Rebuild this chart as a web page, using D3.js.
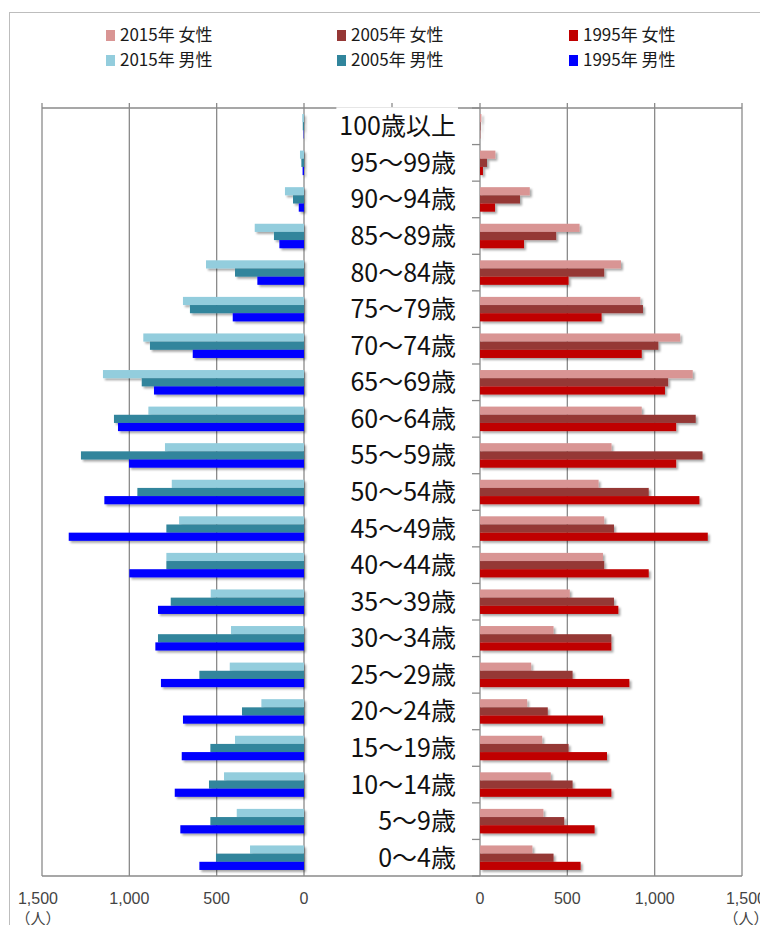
<!DOCTYPE html>
<html>
<head>
<meta charset="utf-8">
<script src="https://cdn.jsdelivr.net/npm/d3@7"></script>
<style>
  body { margin: 0; background: #fff; }
  svg { display: block; font-family: "Noto Sans CJK JP", "Noto Sans", sans-serif; }
</style>
</head>
<body>
<svg id="chart" width="760" height="925"></svg>
<script>
// age groups, top to bottom
var ageGroups = ["100歳以上", "95〜99歳", "90〜94歳", "85〜89歳", "80〜84歳", "75〜79歳",
  "70〜74歳", "65〜69歳", "60〜64歳", "55〜59歳", "50〜54歳", "45〜49歳", "40〜44歳",
  "35〜39歳", "30〜34歳", "25〜29歳", "20〜24歳", "15〜19歳", "10〜14歳", "5〜9歳", "0〜4歳"];
var years = ["2015", "2005", "1995"];

var male2015 = [10, 23, 109, 282, 561, 693, 920, 1151, 891, 796, 757, 715, 788, 534, 418, 425, 244, 395, 458, 385, 309];
var male2005 = [7, 15, 63, 172, 395, 653, 882, 929, 1088, 1277, 954, 788, 788, 763, 836, 599, 355, 536, 544, 536, 504];
var male1995 = [2, 8, 30, 141, 267, 408, 637, 859, 1065, 1002, 1143, 1347, 1000, 836, 851, 819, 693, 700, 740, 708, 599];

var female2015 = [8, 88, 285, 570, 807, 918, 1146, 1218, 926, 753, 679, 711, 704, 514, 421, 293, 270, 356, 405, 363, 300];
var female2005 = [3, 40, 229, 436, 711, 933, 1021, 1077, 1235, 1274, 966, 767, 711, 767, 752, 530, 388, 507, 530, 482, 421];
var female1995 = [1, 17, 86, 252, 507, 696, 926, 1059, 1123, 1123, 1256, 1304, 966, 792, 752, 855, 704, 727, 752, 656, 576];

var tickValues = [0, 500, 1000, 1500];

var maleSeries = [
  {year: "2015", name: "2015年 男性", values: male2015, color: "#93cddd"},
  {year: "2005", name: "2005年 男性", values: male2005, color: "#31859c"},
  {year: "1995", name: "1995年 男性", values: male1995, color: "#0000ff"}
];
var femaleSeries = [
  {year: "2015", name: "2015年 女性", values: female2015, color: "#d99594"},
  {year: "2005", name: "2005年 女性", values: female2005, color: "#953735"},
  {year: "1995", name: "1995年 女性", values: female1995, color: "#c00000"}
];

var svg = d3.select("#chart");
var plotTop = 108, plotBottom = 876;

var xLeft = d3.scaleLinear().domain([0, 1500]).range([304, 42]);
var xRight = d3.scaleLinear().domain([0, 1500]).range([480, 742]);
var y = d3.scaleBand().domain(ageGroups).range([plotTop, plotBottom]).paddingInner(0.33).paddingOuter(0.165);
var ySub = d3.scaleBand().domain(years).range([0, y.bandwidth()]);

var defs = svg.append("defs");
var f = defs.append("filter").attr("id", "shadow")
  .attr("x", "-5%").attr("y", "-40%").attr("width", "115%").attr("height", "200%");
f.append("feDropShadow").attr("dx", 2).attr("dy", 2).attr("stdDeviation", 1.3)
  .attr("flood-color", "#000").attr("flood-opacity", 0.35);

// outer frame
svg.append("rect").attr("x", 9.5).attr("y", 12.5).attr("width", 800).attr("height", 960)
  .attr("fill", "none").attr("stroke", "#bdbdbd").attr("stroke-width", 1);

var gridColor = "#8a8a8a";

// vertical gridlines
var grid = svg.append("g").attr("stroke", gridColor).attr("stroke-width", 1.3);
[xLeft, xRight].forEach(function(sc) {
  grid.selectAll(null).data(tickValues).enter().append("line")
    .attr("x1", function(d) { return sc(d); }).attr("x2", function(d) { return sc(d); })
    .attr("y1", plotTop - 5).attr("y2", plotBottom);
});
// top and bottom lines
grid.append("line").attr("x1", xLeft(1500)).attr("x2", xRight(1500)).attr("y1", plotTop).attr("y2", plotTop);
grid.append("line").attr("x1", xLeft(1500)).attr("x2", xRight(1500)).attr("y1", plotBottom).attr("y2", plotBottom);
grid.append("line").attr("x1", (xLeft(0) + xRight(0)) / 2).attr("x2", (xLeft(0) + xRight(0)) / 2)
  .attr("y1", plotTop - 5).attr("y2", plotTop);
// category ticks on the right panel axis
var bounds = ageGroups.map(function(d) { return y(d) - y.step() * y.paddingInner() / 2; });
bounds.push(plotBottom);
grid.selectAll(null).data(bounds).enter().append("line")
  .attr("x1", xRight(0) - 8).attr("x2", xRight(0))
  .attr("y1", function(d) { return d; }).attr("y2", function(d) { return d; });

// bars
var bars = svg.append("g").attr("filter", "url(#shadow)");
maleSeries.forEach(function(s) {
  bars.selectAll(null).data(s.values).enter().append("rect")
    .attr("x", function(d) { return xLeft(d); })
    .attr("y", function(d, i) { return y(ageGroups[i]) + ySub(s.year); })
    .attr("width", function(d) { return xLeft(0) - xLeft(d); })
    .attr("height", ySub.bandwidth())
    .attr("fill", s.color);
});
femaleSeries.forEach(function(s) {
  bars.selectAll(null).data(s.values).enter().append("rect")
    .attr("x", xRight(0))
    .attr("y", function(d, i) { return y(ageGroups[i]) + ySub(s.year); })
    .attr("width", function(d) { return xRight(d) - xRight(0); })
    .attr("height", ySub.bandwidth())
    .attr("fill", s.color);
});

// center labels with white boxes
var labelX = 456;
var lab = svg.append("g");
ageGroups.forEach(function(a, i) {
  var cy = y(a) + y.bandwidth() / 2;
  var box = lab.append("rect").attr("fill", "#fff");
  var t = lab.append("text").attr("x", labelX).attr("y", cy).attr("dy", "0.36em")
    .attr("text-anchor", "end").attr("font-size", 25).attr("fill", "#111").text(a);
  var bb = t.node().getBBox();
  box.attr("x", bb.x - 3).attr("y", cy - 19).attr("width", bb.width + 5).attr("height", 35);
});

// bottom axis labels
var fmt = d3.format(",");
var axl = svg.append("g").attr("font-family", "'Liberation Sans', Arial, sans-serif")
  .attr("font-size", 16).attr("fill", "#444").attr("text-anchor", "middle");
axl.selectAll(null).data(tickValues).enter().append("text")
  .attr("x", function(d) { return d === 1500 ? xLeft(d) - 4 : xLeft(d); }).attr("y", 904).text(fmt);
axl.selectAll(null).data(tickValues).enter().append("text")
  .attr("x", function(d) { return d === 1500 ? xRight(d) + 4 : xRight(d); }).attr("y", 904).text(fmt);
axl.append("text").attr("x", 38).attr("y", 924).attr("font-size", 15).attr("font-family", "'Noto Sans CJK JP'").text("（人）");
axl.append("text").attr("x", 746).attr("y", 924).attr("font-size", 15).attr("font-family", "'Noto Sans CJK JP'").text("（人）");

// legend
var legendRows = [femaleSeries, maleSeries];
var legendCols = [106, 337, 569];
var lg = svg.append("g");
legendRows.forEach(function(row, r) {
  var ly = 35 + r * 25;
  row.forEach(function(s, c) {
    lg.append("rect").attr("x", legendCols[c]).attr("y", ly - 5).attr("width", 9).attr("height", 11)
      .attr("fill", s.color);
    lg.append("text").attr("x", legendCols[c] + 14).attr("y", ly).attr("dy", "0.36em")
      .attr("font-size", 17).attr("fill", "#1a1a1a").text(s.name);
  });
});
</script>
</body>
</html>
